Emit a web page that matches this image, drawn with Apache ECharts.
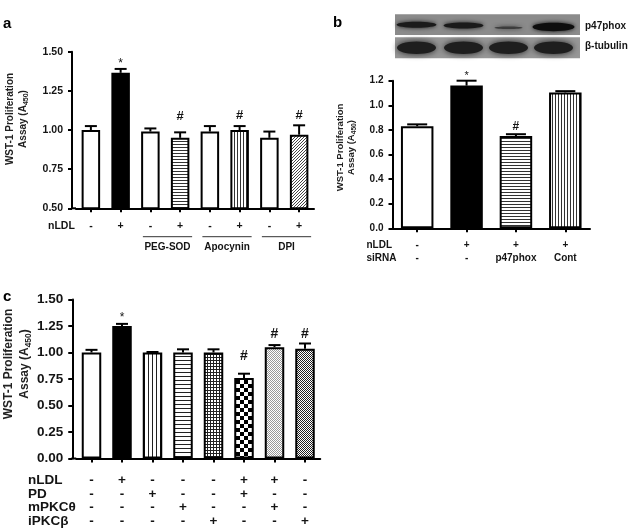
<!DOCTYPE html>
<html><head><meta charset="utf-8">
<script src="https://cdn.jsdelivr.net/npm/echarts@6/dist/echarts.min.js"></script>
<style>html,body{margin:0;padding:0;background:#fff}#c{width:631px;height:531px}</style>
</head><body><div id="c"></div>
<script>
// ---------------- DATA ----------------
// Panel a
const catsA = ['Ctrl','nLDL','PEG-SOD','PEG-SOD+nLDL','Apocynin','Apocynin+nLDL','DPI','DPI+nLDL'];
const rowNamesA = ['nLDL'];
const nldlA = ['-','+','-','+','-','+','-','+'];
const meanA = [1.00, 1.365, 0.99, 0.95, 0.99, 1.00, 0.95, 0.97];
const errA  = [1.025, 1.39, 1.01, 0.985, 1.025, 1.025, 0.99, 1.03];
const groupLabelsA = ['PEG-SOD', 'Apocynin', 'DPI'];
const groupFromA = [2, 4, 6];
const groupToA = [3, 5, 7];
const annCatA = [1, 3, 5, 7];
const annValA = [1.44, 1.085, 1.09, 1.09];
const annSymA = ['*', '#', '#', '#'];
const yTicksA = [0.50, 0.75, 1.00, 1.25, 1.50];

// Panel b
const catsB = ['Ctrl','nLDL','nLDL+si-p47phox','nLDL+si-Cont'];
const rowNamesB = ['nLDL', 'siRNA'];
const nldlB = ['-','+','+','+'];
const sirnaB = ['-','-','p47phox','Cont'];
const meanB = [0.83, 1.16, 0.75, 1.105];
const errB  = [0.845, 1.20, 0.765, 1.115];
const annCatB = [1, 2];
const annValB = [1.26, 0.83];
const annSymB = ['*', '#'];
const yTicksB = [0.0, 0.2, 0.4, 0.6, 0.8, 1.0, 1.2];
const blotRows = ['p47phox', 'β-tubulin'];

// Panel c
const catsC = ['Ctrl','nLDL','PD','mPKCθ','iPKCβ','nLDL+PD','nLDL+mPKCθ','iPKCβ'];
const rowNamesC = ['nLDL', 'PD', 'mPKCθ', 'iPKCβ'];
const nldlC  = ['-','+','-','-','-','+','+','-'];
const pdC    = ['-','-','+','-','-','+','-','-'];
const mpkcC  = ['-','-','-','+','-','-','+','-'];
const ipkcC  = ['-','-','-','-','+','-','-','+'];
const meanC = [1.00, 1.25, 1.00, 1.00, 1.00, 0.76, 1.05, 1.035];
const errC  = [1.025, 1.27, 1.005, 1.03, 1.03, 0.80, 1.07, 1.085];
const annCatC = [1, 5, 6, 7];
const annValC = [1.35, 0.97, 1.17, 1.17];
const annSymC = ['*', '#', '#', '#'];
const yTicksC = [0.00, 0.25, 0.50, 0.75, 1.00, 1.25, 1.50];

const panelLetters = ['a', 'b', 'c'];
const yTitle1 = 'WST-1 Proliferation';
const yTitle2a = 'Assay (A';
const yTitleSub = '450';
const yTitle2b = ')';

// ---------------- STYLE ----------------
const FF = '"Liberation Sans", Arial, Helvetica, sans-serif';
const INK = '#141414';

function pat(w, h, draw) {
  const c = document.createElement('canvas');
  c.width = w; c.height = h;
  const g = c.getContext('2d');
  g.fillStyle = '#fff'; g.fillRect(0, 0, w, h);
  draw(g);
  return { image: c, repeat: 'repeat' };
}
const P = {
  white: '#ffffff',
  black: '#000000',
  hline: pat(3, 3, g => { g.fillStyle = '#333'; g.fillRect(0, 0, 3, 1); }),
  vline: pat(3, 3, g => { g.fillStyle = '#333'; g.fillRect(0, 0, 1, 3); }),
  hline4: pat(4, 4, g => { g.fillStyle = '#222'; g.fillRect(0, 0, 4, 1); }),
  vline4: pat(4, 4, g => { g.fillStyle = '#222'; g.fillRect(0, 0, 1, 4); }),
  grid: pat(3, 3, g => { g.fillStyle = '#222'; g.fillRect(0, 0, 3, 1); g.fillRect(0, 0, 1, 3); }),
  diag: pat(3, 3, g => { g.fillStyle = '#444'; g.fillRect(2, 0, 1, 1); g.fillRect(1, 1, 1, 1); g.fillRect(0, 2, 1, 1); }),
  check: pat(8, 8, g => { g.fillStyle = '#000'; g.fillRect(0, 0, 4, 4); g.fillRect(4, 4, 4, 4); }),
  fineLight: pat(2, 2, g => { g.fillStyle = '#999'; g.fillRect(0, 0, 1, 1); g.fillRect(1, 1, 1, 1); }),
  fineDark: pat(2, 2, g => { g.fillStyle = '#222'; g.fillRect(0, 0, 1, 1); g.fillRect(1, 1, 1, 1); })
};
const fillA = ['white','black','white','hline','white','vline','white','diag'];
const fillB = ['white','black','hline','vline'];
const fillC = ['white','black','vline4','hline4','grid','check','fineLight','fineDark'];

// layout (pixels)
const L = {
  a: { left: 76, top: 51.7, width: 238, height: 156.6, yOff: 4, barW: 18.5, cap: 6, font: 10.5, rowLH: 12, labMargin: 11.5, rowX: 48, nameGap: 42, namePad: 22, titleFont: 10, titleLH: 13.5, annFont: { '*': 12, '#': 13 } },
  b: { left: 392.5, top: 80.7, width: 197.5, height: 147.6, yOff: 0, barW: 32.5, cap: 10, font: 10, rowLH: 12.7, labMargin: 10.4, rowX: 366.5, nameGap: 35, namePad: 14, titleFont: 9.5, titleLH: 11.7, annFont: { '*': 11, '#': 12 } },
  c: { left: 76.25, top: 299.5, width: 244, height: 159, yOff: 4, barW: 19.5, cap: 6, font: 13.5, rowLH: 13.9, labMargin: 14.5, rowX: 28, nameGap: 40, namePad: 30, titleFont: 12, titleLH: 16, annFont: { '*': 12, '#': 14 } }
};

const panels = [
  { key: 'a', cats: catsA, rows: [nldlA], rowNames: rowNamesA, mean: meanA, err: errA, fill: fillA, ticks: yTicksA, dec: 2, annCat: annCatA, annVal: annValA, annSym: annSymA },
  { key: 'b', cats: catsB, rows: [nldlB, sirnaB], rowNames: rowNamesB, mean: meanB, err: errB, fill: fillB, ticks: yTicksB, dec: 1, annCat: annCatB, annVal: annValB, annSym: annSymB },
  { key: 'c', cats: catsC, rows: [nldlC, pdC, mpkcC, ipkcC], rowNames: rowNamesC, mean: meanC, err: errC, fill: fillC, ticks: yTicksC, dec: 2, annCat: annCatC, annVal: annValC, annSym: annSymC }
];

const chart = echarts.init(document.getElementById('c'), null, { renderer: 'canvas' });

const grids = [], xAxes = [], yAxes = [], series = [];
panels.forEach((p, gi) => {
  const l = L[p.key];
  grids.push({ left: l.left, top: l.top, width: l.width, height: l.height, containLabel: false });
  xAxes.push({
    type: 'category', gridIndex: gi, data: p.cats, boundaryGap: true,
    axisLine: { show: true, lineStyle: { color: '#000', width: 2 } },
    axisTick: { show: true, alignWithLabel: true, length: 4, lineStyle: { color: '#000', width: 2 } },
    axisLabel: {
      interval: 0, margin: l.labMargin, color: INK, fontFamily: FF, fontWeight: 'bold', fontSize: l.font,
      lineHeight: l.rowLH, verticalAlign: 'top',
      formatter: (v, i) => p.rows.map(r => r[i]).join('\n')
    },
    splitLine: { show: false }
  });
  const tmin = p.ticks[0], tmax = p.ticks[p.ticks.length - 1], tint = p.ticks[1] - p.ticks[0];
  yAxes.push({
    type: 'value', gridIndex: gi, min: tmin, max: tmax, interval: tint, offset: l.yOff,
    axisLine: { show: true, lineStyle: { color: '#000', width: 2 } },
    axisTick: { show: true, length: 4, lineStyle: { color: '#000', width: 2 } },
    axisLabel: { margin: 9, color: INK, fontFamily: FF, fontWeight: 'bold', fontSize: l.font, formatter: v => v.toFixed(p.dec) },
    splitLine: { show: false },
    name: '{t|' + yTitle1 + '}\n{t|' + yTitle2a + '}{s|' + yTitleSub + '}{t|' + yTitle2b + '}',
    nameLocation: 'middle', nameRotate: 90, nameGap: l.nameGap,
    nameTextStyle: {
      padding: [0, 0, 0, l.namePad],
      rich: {
        t: { fontFamily: FF, fontWeight: 'bold', fontSize: l.titleFont, lineHeight: l.titleLH, color: '#222' },
        s: { fontFamily: FF, fontWeight: 'bold', fontSize: l.titleFont * 0.7, lineHeight: l.titleLH * 0.6, verticalAlign: 'bottom', color: '#222' }
      }
    }
  });
  series.push({
    type: 'bar', xAxisIndex: gi, yAxisIndex: gi, barWidth: l.barW, clip: true,
    data: p.mean.map((v, i) => ({ value: v, itemStyle: { color: P[p.fill[i]], borderColor: '#000', borderWidth: 2 } })),
    emphasis: { disabled: true }, z: 2
  });
  series.push({
    type: 'custom', xAxisIndex: gi, yAxisIndex: gi, z: 3,
    data: p.mean.map((v, i) => [i, v, p.err[i]]),
    renderItem: (params, api) => {
      const b = api.coord([api.value(0), api.value(1)]);
      const t = api.coord([api.value(0), api.value(2)]);
      const st = { stroke: '#000', lineWidth: 2 };
      return { type: 'group', children: [
        { type: 'line', shape: { x1: b[0], y1: b[1], x2: t[0], y2: t[1] }, style: st },
        { type: 'line', shape: { x1: t[0] - l.cap, y1: t[1], x2: t[0] + l.cap, y2: t[1] }, style: st }
      ] };
    }
  });
  series.push({
    type: 'custom', xAxisIndex: gi, yAxisIndex: gi, z: 4,
    data: p.annCat.map((c, i) => [c, p.annVal[i]]),
    renderItem: (params, api) => {
      const pt = api.coord([api.value(0), api.value(1)]);
      const sym = p.annSym[params.dataIndex];
      const fs = l.annFont[sym];
      return { type: 'text', style: { text: sym, x: pt[0], y: pt[1] + (sym === '*' ? fs * 0.22 : 0), align: 'center', verticalAlign: 'middle', font: (sym === '#' ? 'bold ' : '') + fs + 'px ' + FF, fill: INK } };
    }
  });
});

chart.setOption({
  animation: false, backgroundColor: '#fff',
  grid: grids, xAxis: xAxes, yAxis: yAxes, series: series
});

// ------------- decorations built from the axes -------------
const gfx = [];
function txt(t, x, y, font, align, va, fill) {
  gfx.push({ type: 'text', silent: true, style: { text: t, x: x, y: y, font: font, align: align || 'left', verticalAlign: va || 'middle', fill: fill || INK } });
}
function line(x1, y1, x2, y2, w, c) {
  gfx.push({ type: 'line', silent: true, shape: { x1, y1, x2, y2 }, style: { stroke: c || '#000', lineWidth: w || 2 } });
}
panels.forEach((p, gi) => {
  const l = L[p.key];
  const axisY = l.top + l.height;
  if (l.yOff) line(l.left - l.yOff - 1, axisY, l.left, axisY, 2);
  p.rowNames.forEach((n, r) => txt(n, l.rowX, axisY + l.labMargin + l.rowLH * (r + 0.5), 'bold ' + l.font + 'px ' + FF, 'left', 'middle'));
});
{
  const l = L.a; const axisY = l.top + l.height;
  groupLabelsA.forEach((g, i) => {
    const x1 = chart.convertToPixel({ xAxisIndex: 0 }, groupFromA[i]) - 7.5;
    const x2 = chart.convertToPixel({ xAxisIndex: 0 }, groupToA[i]) + 12;
    line(x1, axisY + 28.4, x2, axisY + 28.4, 1, '#333');
    txt(g, (x1 + x2) / 2, axisY + 39.4, 'bold 10px ' + FF, 'center', 'middle');
  });
}
txt(panelLetters[0], 3, 16, 'bold 15px ' + FF, 'left', 'alphabetic', '#000');
txt(panelLetters[1], 333, 15, 'bold 15px ' + FF, 'left', 'alphabetic', '#000');
txt(panelLetters[2], 3, 289, 'bold 15px ' + FF, 'left', 'alphabetic', '#000');

{
  const x0 = 395, x1 = 580;
  gfx.push({ type: 'rect', silent: true, shape: { x: x0, y: 14.3, width: x1 - x0, height: 20.7 }, style: { fill: '#8b8b8b' } });
  gfx.push({ type: 'rect', silent: true, shape: { x: x0, y: 37.3, width: x1 - x0, height: 21 }, style: { fill: '#979797' } });
  const lanes = [416.5, 463.5, 508.5, 553.5];
  const topRy = [3.0, 3.0, 1.3, 4.2], topRx = [20, 20, 14, 21], topCy = [24.8, 25.5, 27.8, 27], topC = ['#1a1a1a', '#1a1a1a', '#3c3c3c', '#0e0e0e'];
  lanes.forEach((cx, i) => {
    gfx.push({ type: 'ellipse', silent: true, shape: { cx: cx, cy: topCy[i], rx: topRx[i], ry: topRy[i] }, style: { fill: topC[i], shadowBlur: 4, shadowColor: topC[i] } });
    gfx.push({ type: 'ellipse', silent: true, shape: { cx: cx, cy: 47.8, rx: 19.5, ry: 6.2 }, style: { fill: '#1e1e1e', shadowBlur: 6, shadowColor: '#1e1e1e' } });
  });
  txt(blotRows[0], 585, 26.5, 'bold 10px ' + FF, 'left', 'middle');
  txt(blotRows[1], 585, 46.5, 'bold 10px ' + FF, 'left', 'middle');
}
chart.setOption({ graphic: { elements: gfx } });
</script></body></html>
